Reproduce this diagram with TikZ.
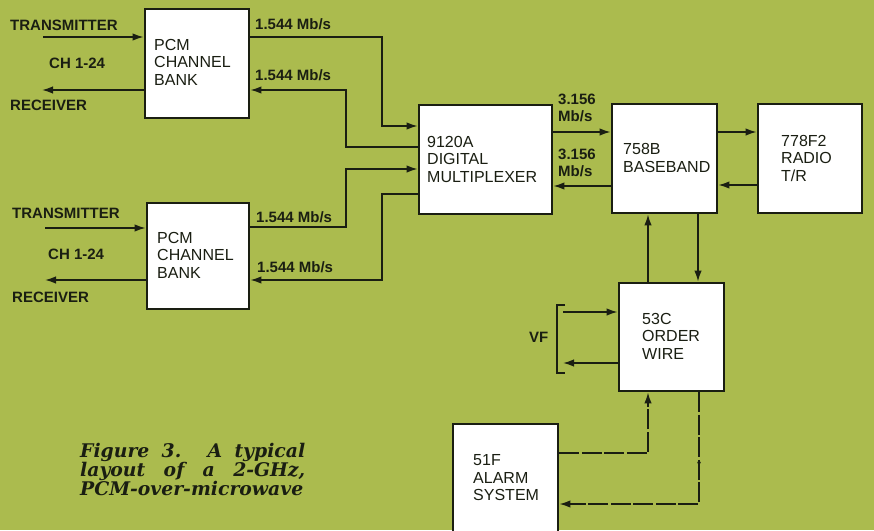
\documentclass[tikz,border=0pt]{standalone}
\usepackage{fontspec}
\setmainfont{Liberation Sans}
\newfontfamily\capfont{DejaVu Serif}
\usetikzlibrary{arrows.meta,decorations.markings}
\definecolor{bg}{RGB}{171,187,78}
\definecolor{ink}{RGB}{26,30,18}
\begin{document}
\begin{tikzpicture}[x=1pt,y=-1pt,
  box/.style={draw=ink,line width=2.8pt,fill=white,inner sep=0},
  lbl/.style={font=\fontsize{15}{17}\selectfont\bfseries,text=ink,inner sep=0,anchor=west,align=left},
  btxt/.style={font=\fontsize{16}{17.5}\selectfont,text=ink,inner sep=0,anchor=west,align=left},
  conn/.style={draw=ink,line width=1.6pt,-{Latex[length=11pt,width=7.5pt]}},
  alarmline/.style={dash pattern=on 20pt off 2.5pt},
  capline/.style={font=\capfont\bfseries\itshape\fontsize{18.8}{19}\selectfont,text=ink,inner sep=0,anchor=base west},
  ]
\clip (0,0) rectangle (874,530);
\fill[bg] (0,0) rectangle (874,530);

% boxes
\node[box,minimum width=104pt,minimum height=109pt] (pcmA) at (197,63.5) {};
\node[box,minimum width=102pt,minimum height=106pt] (pcmB) at (198,256) {};
\node[box,minimum width=133pt,minimum height=109pt] (mux) at (485.5,159.5) {};
\node[box,minimum width=105pt,minimum height=109pt] (bb) at (664.5,158.5) {};
\node[box,minimum width=104pt,minimum height=109pt] (radio) at (810,158.5) {};
\node[box,minimum width=105pt,minimum height=108pt] (ow) at (671.5,337) {};
\node[box,minimum width=105pt,minimum height=116pt] (alarm) at (505.5,482) {};

% box texts
\node[btxt] (pcmAt) at (154,62) {PCM\\CHANNEL\\BANK};
\node[btxt] (pcmBt) at (157,255) {PCM\\CHANNEL\\BANK};
\node[btxt] (muxt) at (427,159) {9120A\\DIGITAL\\MULTIPLEXER};
\node[btxt] (bbt) at (623,158) {758B\\BASEBAND};
\node[btxt] (radiot) at (781,158) {778F2\\RADIO\\T/R};
\node[btxt] (owt) at (642,336) {53C\\ORDER\\WIRE};
\node[btxt] (alarmt) at (473,478) {51F\\ALARM\\SYSTEM};

% outside labels
\node[lbl] (txAl) at (10,25) {TRANSMITTER};
\node[lbl] (chA) at (49,63) {CH 1-24};
\node[lbl] (rxAl) at (10,105) {RECEIVER};
\node[lbl] (txBl) at (12,213) {TRANSMITTER};
\node[lbl] (chB) at (48,254) {CH 1-24};
\node[lbl] (rxBl) at (12,297) {RECEIVER};
\node[lbl] (r1) at (255,24) {1.544 Mb/s};
\node[lbl] (r2) at (255,75) {1.544 Mb/s};
\node[lbl] (r3) at (256,217) {1.544 Mb/s};
\node[lbl] (r4) at (257,267) {1.544 Mb/s};
\node[lbl] (s1) at (558,108) {3.156\\Mb/s};
\node[lbl] (s2) at (558,163) {3.156\\Mb/s};
\node[lbl] (vf) at (529,337) {VF};

% free ends
\coordinate (txA) at (43,37);
\coordinate (rxA) at (42,90);
\coordinate (txB) at (45,228);
\coordinate (rxB) at (45,280);
\coordinate (vfin) at (563,312);
\coordinate (vfout) at (563,363);

% connectors
\draw[conn] (txA) -- (pcmA.west |- txA);
\draw[conn] (pcmA.west |- rxA) -- (rxA);
\draw[conn] (txB) -- (pcmB.west |- txB);
\draw[conn] (pcmB.west |- rxB) -- (rxB);

\draw[conn] (pcmA.east |- 0,37) -| (382,126) -- (mux.west |- 0,126);
\draw[conn] (mux.west |- 0,147) -| (346,90) -- (pcmA.east |- 0,90);
\draw[conn] (pcmB.east |- 0,227) -| (346,169) -- (mux.west |- 0,169);
\draw[conn] (mux.west |- 0,194) -| (382,280) -- (pcmB.east |- 0,280);

\draw[conn] (mux.east |- 0,132) -- (bb.west |- 0,132);
\draw[conn] (bb.west |- 0,186) -- (mux.east |- 0,186);
\draw[conn] (bb.east |- 0,132) -- (radio.west |- 0,132);
\draw[conn] (radio.west |- 0,185) -- (bb.east |- 0,185);

\draw[conn] (ow.north -| 648,0) -- (bb.south -| 648,0);
\draw[conn] (bb.south -| 698,0) -- (ow.north -| 698,0);

\draw[ink,line width=1.3pt] (565,305) -- (557,305) -- (557,373) -- (565,373);
\draw[conn] (vfin) -- (ow.west |- vfin);
\draw[conn] (ow.west |- vfout) -- (vfout);

\draw[conn,alarmline] (alarm.east |- 0,453) -| (ow.south -| 648,0);
\draw[conn,alarmline,
  postaction={decorate,decoration={markings,mark=at position 0.3 with {\arrow[solid]{Latex[length=6pt,width=4pt]}}}}]
  (ow.south -| 699,0) |- (alarm.east |- 0,504);

% caption
\node[capline] (cap1) at (80,457) {\makebox[225pt][s]{Figure 3. A typical}};
\node[capline] (cap2) at (80,476) {\makebox[225pt][s]{layout of a 2-GHz,}};
\node[capline] (cap3) at (80,495) {\makebox[225pt][s]{PCM-over-microwave}};
\end{tikzpicture}
\end{document}
